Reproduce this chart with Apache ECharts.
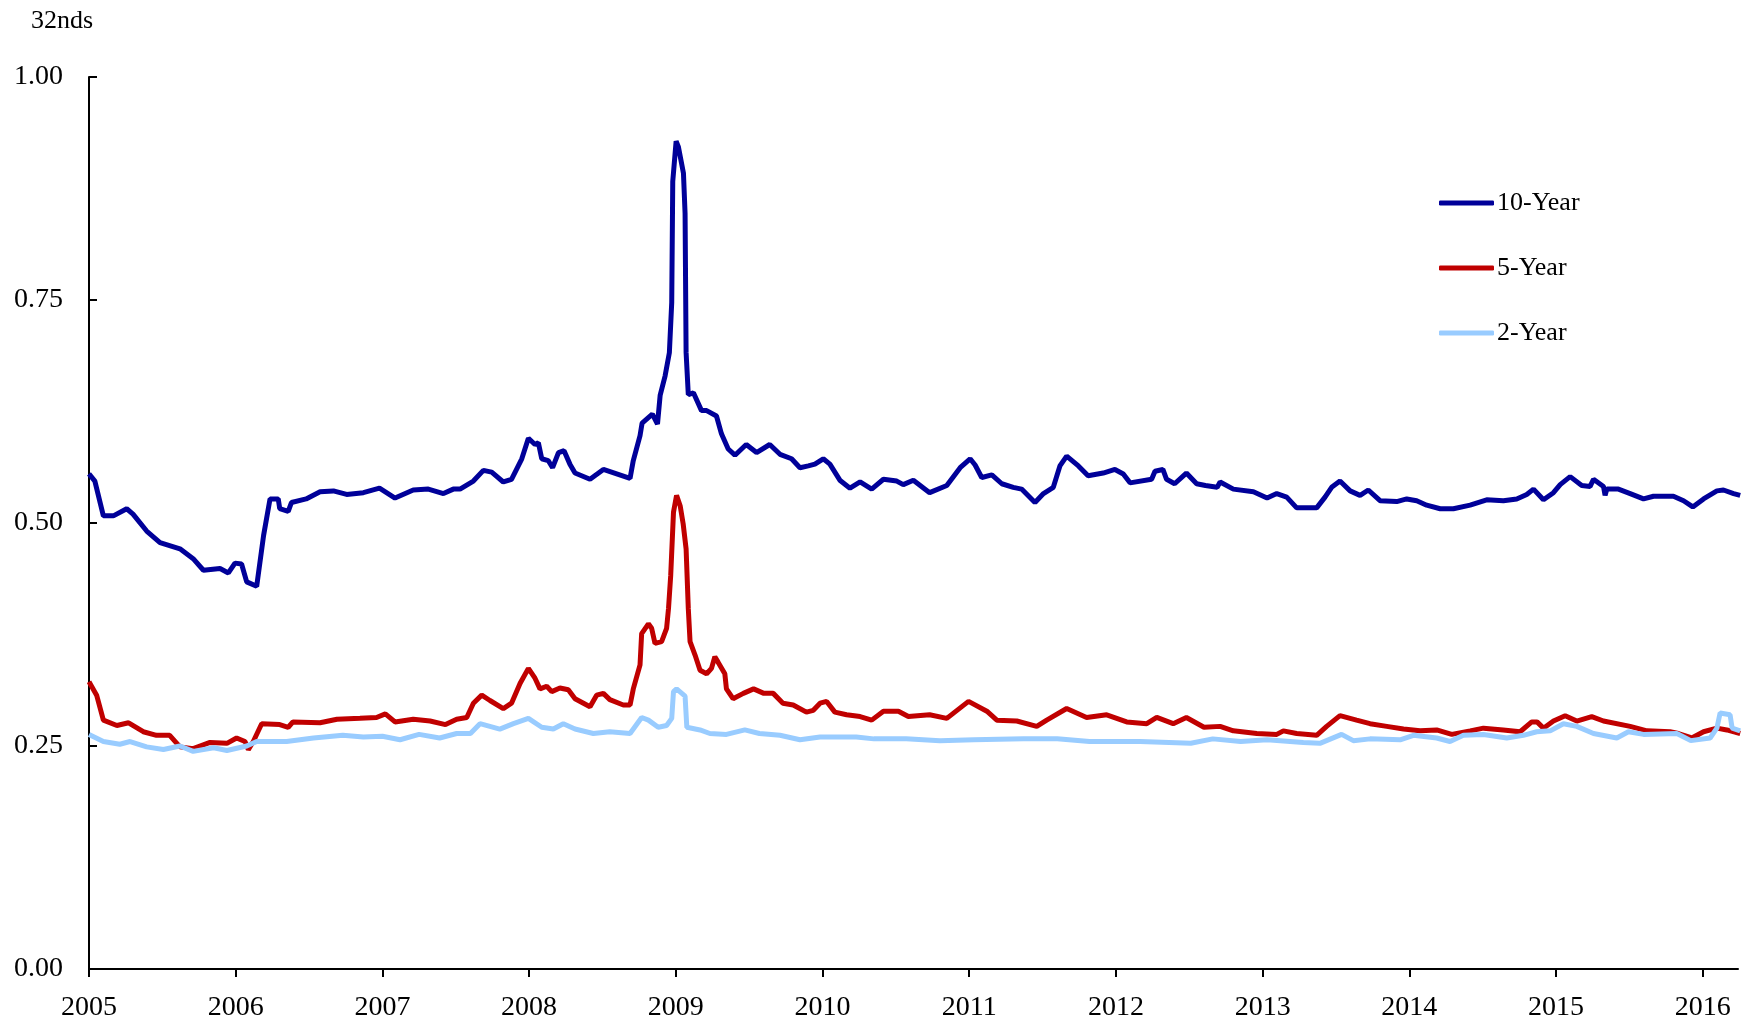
<!DOCTYPE html>
<html>
<head>
<meta charset="utf-8">
<script src="https://cdn.jsdelivr.net/npm/echarts@6/dist/echarts.min.js"></script>
<style>
  html, body { margin: 0; padding: 0; background: #fff; }
  #chart { width: 1747px; height: 1022px; }
</style>
</head>
<body>
<div id="chart"></div>
<script>
// values, x in decimal years
const yearTicks = [2005, 2006, 2007, 2008, 2009, 2010, 2011, 2012, 2013, 2014, 2015, 2016]

const years10 = [2005.0, 2005.04, 2005.098, 2005.166, 2005.257, 2005.30, 2005.393, 2005.484, 2005.62, 2005.71,
  2005.78, 2005.893, 2005.95, 2005.995, 2006.04, 2006.075, 2006.143, 2006.19, 2006.234, 2006.29,
  2006.30, 2006.358, 2006.38, 2006.48, 2006.575, 2006.666, 2006.756, 2006.87, 2006.98, 2007.086,
  2007.21, 2007.313, 2007.416, 2007.483, 2007.529, 2007.62, 2007.688, 2007.745, 2007.824, 2007.88,
  2007.95, 2007.995, 2008.04, 2008.063, 2008.086, 2008.13, 2008.16, 2008.2, 2008.238, 2008.278,
  2008.313, 2008.415, 2008.506, 2008.597, 2008.688, 2008.71, 2008.756, 2008.77, 2008.84, 2008.875,
  2008.893, 2008.927, 2008.956, 2008.972, 2008.979, 2008.988, 2009.002, 2009.017, 2009.052, 2009.063,
  2009.07, 2009.085, 2009.12, 2009.175, 2009.21, 2009.277, 2009.311, 2009.357, 2009.403, 2009.48,
  2009.55, 2009.64, 2009.71, 2009.789, 2009.846, 2009.903, 2009.948, 2010.005, 2010.05, 2010.118,
  2010.187, 2010.256, 2010.335, 2010.415, 2010.506, 2010.55, 2010.619, 2010.73, 2010.847, 2010.938,
  2011.006, 2011.04, 2011.085, 2011.154, 2011.222, 2011.3, 2011.357, 2011.448, 2011.506, 2011.573,
  2011.618, 2011.664, 2011.744, 2011.81, 2011.913, 2011.993, 2012.05, 2012.096, 2012.243, 2012.266,
  2012.32, 2012.345, 2012.4, 2012.48, 2012.55, 2012.61, 2012.69, 2012.71, 2012.8, 2012.937,
  2013.03, 2013.096, 2013.164, 2013.232, 2013.368, 2013.425, 2013.47, 2013.527, 2013.596, 2013.664,
  2013.72, 2013.8, 2013.914, 2013.982, 2014.05, 2014.118, 2014.21, 2014.3, 2014.414, 2014.527,
  2014.641, 2014.732, 2014.8, 2014.846, 2014.914, 2014.982, 2015.028, 2015.096, 2015.175, 2015.232,
  2015.255, 2015.323, 2015.334, 2015.346, 2015.425, 2015.505, 2015.596, 2015.664, 2015.8, 2015.869,
  2015.932, 2016.005, 2016.096, 2016.141, 2016.21, 2016.255]
const values10 = [0.555, 0.547, 0.508, 0.508, 0.516, 0.510, 0.491, 0.478, 0.471, 0.460,
  0.447, 0.449, 0.444, 0.455, 0.454, 0.434, 0.429, 0.486, 0.527, 0.527,
  0.516, 0.513, 0.523, 0.527, 0.535, 0.536, 0.532, 0.534, 0.539, 0.528,
  0.537, 0.538, 0.533, 0.538, 0.538, 0.547, 0.559, 0.557, 0.546, 0.549,
  0.572, 0.595, 0.588, 0.590, 0.572, 0.570, 0.562, 0.579, 0.581, 0.566,
  0.556, 0.549, 0.560, 0.555, 0.550, 0.570, 0.598, 0.612, 0.622, 0.611,
  0.643, 0.665, 0.691, 0.747, 0.883, 0.884, 0.928, 0.922, 0.892, 0.847,
  0.691, 0.644, 0.646, 0.626, 0.626, 0.620, 0.600, 0.583, 0.576, 0.588,
  0.579, 0.588, 0.577, 0.572, 0.562, 0.564, 0.566, 0.572, 0.566, 0.548,
  0.539, 0.546, 0.538, 0.549, 0.547, 0.543, 0.548, 0.534, 0.542, 0.562,
  0.572, 0.565, 0.551, 0.554, 0.544, 0.540, 0.538, 0.523, 0.533, 0.540,
  0.564, 0.575, 0.564, 0.553, 0.556, 0.560, 0.555, 0.545, 0.549, 0.558,
  0.560, 0.549, 0.544, 0.556, 0.544, 0.542, 0.540, 0.546, 0.538, 0.535,
  0.528, 0.533, 0.529, 0.517, 0.517, 0.529, 0.540, 0.547, 0.536, 0.531,
  0.537, 0.525, 0.524, 0.527, 0.525, 0.520, 0.516, 0.516, 0.520, 0.526,
  0.525, 0.527, 0.532, 0.538, 0.526, 0.534, 0.543, 0.552, 0.542, 0.541,
  0.549, 0.541, 0.531, 0.538, 0.538, 0.533, 0.527, 0.530, 0.530, 0.525,
  0.518, 0.527, 0.536, 0.537, 0.533, 0.531]

const years5 = [2005.0, 2005.052, 2005.098, 2005.19, 2005.27, 2005.37, 2005.46, 2005.55, 2005.62, 2005.71,
  2005.825, 2005.94, 2006.006, 2006.063, 2006.086, 2006.12, 2006.177, 2006.30, 2006.358, 2006.39,
  2006.575, 2006.69, 2006.847, 2006.96, 2007.02, 2007.086, 2007.21, 2007.325, 2007.43, 2007.506,
  2007.575, 2007.62, 2007.677, 2007.733, 2007.824, 2007.88, 2007.938, 2007.995, 2008.04, 2008.074,
  2008.12, 2008.154, 2008.21, 2008.267, 2008.313, 2008.415, 2008.46, 2008.506, 2008.55, 2008.642,
  2008.688, 2008.71, 2008.756, 2008.767, 2008.813, 2008.835, 2008.858, 2008.903, 2008.937, 2008.95,
  2008.965, 2008.984, 2009.005, 2009.03, 2009.05, 2009.07, 2009.085, 2009.097, 2009.131, 2009.165,
  2009.21, 2009.243, 2009.266, 2009.288, 2009.334, 2009.345, 2009.39, 2009.46, 2009.53, 2009.6,
  2009.664, 2009.73, 2009.8, 2009.89, 2009.937, 2009.983, 2010.028, 2010.084, 2010.164, 2010.256,
  2010.335, 2010.415, 2010.517, 2010.585, 2010.73, 2010.847, 2010.995, 2011.12, 2011.188, 2011.324,
  2011.46, 2011.528, 2011.664, 2011.8, 2011.937, 2012.073, 2012.21, 2012.278, 2012.39, 2012.48,
  2012.6, 2012.71, 2012.8, 2012.96, 2013.096, 2013.141, 2013.232, 2013.368, 2013.436, 2013.527,
  2013.64, 2013.732, 2013.846, 2013.96, 2014.073, 2014.186, 2014.289, 2014.414, 2014.505, 2014.64,
  2014.755, 2014.834, 2014.87, 2014.914, 2014.982, 2015.062, 2015.141, 2015.243, 2015.323, 2015.505,
  2015.62, 2015.777, 2015.834, 2015.925, 2016.005, 2016.096, 2016.164, 2016.255]
const values5 = [0.322, 0.307, 0.279, 0.273, 0.276, 0.266, 0.262, 0.262, 0.249, 0.247,
  0.254, 0.253, 0.259, 0.255, 0.246, 0.255, 0.275, 0.274, 0.271, 0.277,
  0.276, 0.280, 0.281, 0.282, 0.286, 0.277, 0.280, 0.278, 0.274, 0.280,
  0.282, 0.298, 0.307, 0.301, 0.292, 0.298, 0.320, 0.337, 0.326, 0.314,
  0.317, 0.311, 0.315, 0.313, 0.303, 0.294, 0.307, 0.309, 0.302, 0.296,
  0.296, 0.314, 0.341, 0.376, 0.387, 0.382, 0.365, 0.367, 0.382, 0.404,
  0.441, 0.512, 0.531, 0.519, 0.499, 0.471, 0.404, 0.367, 0.352, 0.335,
  0.331, 0.337, 0.350, 0.344, 0.331, 0.314, 0.303, 0.309, 0.314, 0.309,
  0.309, 0.298, 0.296, 0.288, 0.290, 0.298, 0.300, 0.288, 0.285, 0.283,
  0.279, 0.289, 0.289, 0.283, 0.285, 0.281, 0.300, 0.289, 0.279, 0.278,
  0.272, 0.279, 0.292, 0.282, 0.285, 0.277, 0.275, 0.282, 0.275, 0.282,
  0.271, 0.272, 0.267, 0.264, 0.263, 0.267, 0.264, 0.262, 0.272, 0.284,
  0.279, 0.275, 0.272, 0.269, 0.267, 0.268, 0.263, 0.267, 0.270, 0.268,
  0.266, 0.277, 0.277, 0.270, 0.278, 0.284, 0.278, 0.283, 0.278, 0.272,
  0.267, 0.266, 0.264, 0.259, 0.266, 0.270, 0.268, 0.264]

const years2 = [2005.0, 2005.098, 2005.21, 2005.28, 2005.393, 2005.507, 2005.62, 2005.71, 2005.85, 2005.94,
  2006.075, 2006.143, 2006.347, 2006.53, 2006.73, 2006.87, 2007.0, 2007.12, 2007.25, 2007.39,
  2007.506, 2007.6, 2007.665, 2007.8, 2007.893, 2007.995, 2008.086, 2008.165, 2008.233, 2008.313,
  2008.438, 2008.55, 2008.688, 2008.767, 2008.813, 2008.88, 2008.937, 2008.972, 2008.984, 2009.005,
  2009.063, 2009.075, 2009.165, 2009.232, 2009.345, 2009.47, 2009.57, 2009.71, 2009.846, 2009.983,
  2010.23, 2010.35, 2010.57, 2010.8, 2011.03, 2011.37, 2011.6, 2011.82, 2012.165, 2012.51,
  2012.66, 2012.85, 2013.03, 2013.277, 2013.39, 2013.538, 2013.618, 2013.732, 2013.937, 2014.028,
  2014.186, 2014.277, 2014.368, 2014.505, 2014.664, 2014.777, 2014.868, 2014.96, 2015.05, 2015.141,
  2015.255, 2015.414, 2015.493, 2015.596, 2015.823, 2015.918, 2016.05, 2016.096, 2016.118, 2016.186,
  2016.2, 2016.255]
const values2 = [0.263, 0.255, 0.252, 0.255, 0.249, 0.246, 0.250, 0.244, 0.248, 0.245,
  0.250, 0.255, 0.255, 0.259, 0.262, 0.260, 0.261, 0.257, 0.263, 0.259,
  0.264, 0.264, 0.275, 0.269, 0.275, 0.281, 0.271, 0.269, 0.275, 0.269,
  0.264, 0.266, 0.264, 0.282, 0.279, 0.271, 0.273, 0.281, 0.311, 0.314,
  0.306, 0.271, 0.268, 0.264, 0.263, 0.268, 0.264, 0.262, 0.257, 0.260,
  0.260, 0.258, 0.258, 0.256, 0.257, 0.258, 0.258, 0.255, 0.255, 0.253,
  0.258, 0.255, 0.257, 0.254, 0.253, 0.263, 0.256, 0.258, 0.257, 0.262,
  0.259, 0.255, 0.262, 0.263, 0.259, 0.262, 0.266, 0.267, 0.275, 0.272,
  0.264, 0.259, 0.266, 0.263, 0.264, 0.256, 0.259, 0.270, 0.287, 0.285,
  0.270, 0.267]

const zip = (xs, ys) => xs.map((x, i) => [x, ys[i]])
const serif = "'Times New Roman', 'Liberation Serif', serif"

const myChart = echarts.init(document.getElementById('chart'))
const option = {
  backgroundColor: '#fff',
  animation: false,
  title: {
    text: '32nds',
    left: 26, top: 3,
    textStyle: { fontFamily: serif, fontSize: 26, fontWeight: 'normal', color: '#000' }
  },
  legend: {
    orient: 'vertical',
    left: 1439, top: 190,
    padding: 0,
    icon: 'roundRect',
    itemWidth: 55, itemHeight: 5, itemGap: 39,
    textStyle: { fontFamily: serif, fontSize: 26, color: '#000', padding: [0, 0, 0, -2] },
    data: ['10-Year', '5-Year', '2-Year']
  },
  grid: { left: 89, right: 9, top: 77, bottom: 51 },
  xAxis: {
    type: 'value',
    min: 2005, max: 2016.24,
    axisLine: { lineStyle: { color: '#000', width: 2 } },
    axisTick: { customValues: yearTicks, length: 8, lineStyle: { color: '#000', width: 2 } },
    axisLabel: {
      customValues: yearTicks,
      fontFamily: serif, fontSize: 28, color: '#000', margin: 25,
      formatter: v => String(v)
    },
    splitLine: { show: false }
  },
  yAxis: {
    type: 'value',
    min: 0, max: 1, interval: 0.25,
    axisLine: { show: true, lineStyle: { color: '#000', width: 2 } },
    axisTick: { show: true, inside: true, length: 8, lineStyle: { color: '#000', width: 2 } },
    axisLabel: {
      fontFamily: serif, fontSize: 28, color: '#000', margin: 26,
      formatter: v => v.toFixed(2)
    },
    splitLine: { show: false }
  },
  series: [
    {
      name: '10-Year', type: 'line', symbol: 'none',
      lineStyle: { color: '#000099', width: 5 }, itemStyle: { color: '#000099' },
      data: zip(years10, values10)
    },
    {
      name: '5-Year', type: 'line', symbol: 'none',
      lineStyle: { color: '#C00000', width: 5 }, itemStyle: { color: '#C00000' },
      data: zip(years5, values5)
    },
    {
      name: '2-Year', type: 'line', symbol: 'none',
      lineStyle: { color: '#99CCFF', width: 5 }, itemStyle: { color: '#99CCFF' },
      data: zip(years2, values2)
    }
  ]
}
myChart.setOption(option)
</script>
</body>
</html>
